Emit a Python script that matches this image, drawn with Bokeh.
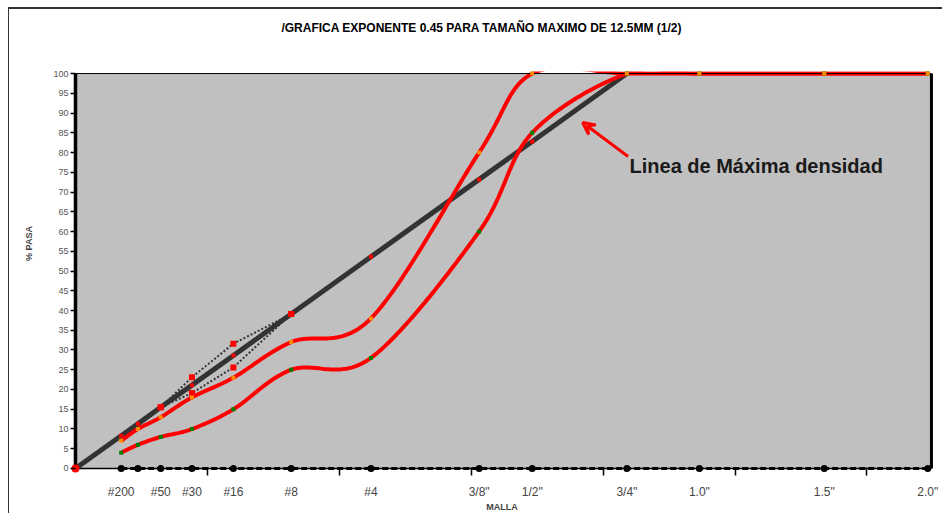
import numpy as np
from bokeh.plotting import figure
from bokeh.models import Range1d, FixedTicker, LinearAxis, Arrow, VeeHead, Label
from bokeh.embed import file_html
from bokeh.resources import INLINE

# --- data -------------------------------------------------------------------
EXPONENT = 0.45
sieve_labels = ["#200", "#100", "#50", "#30", "#16", "#8", "#4",
                '3/8"', '1/2"', '3/4"', '1.0"', '1.5"', '2.0"']
sieve_mm = [0.075, 0.15, 0.3, 0.6, 1.18, 2.36, 4.75, 9.5, 12.5, 19.0, 25.0, 37.5, 50.0]

# gradation band (% passing)
upper_limit = [7, 10, 13, 18, 23, 32, 38, 80, 100, 100, 100, 100, 100]
lower_limit = [4, 6, 8, 10, 15, 25, 28, 60, 85, 100, 100, 100, 100]

# maximum density line, 0.45 power
max_density_mm = [0.0, 0.075, 0.15, 0.3, 0.6, 1.18, 2.36, 4.75, 9.5, 12.5, 19.0]
max_density = [0.0, 8.3, 11.3, 15.5, 21.1, 28.6, 39.1, 53.6, 73.2, 82.8, 100.0]

# restricted zone
zone_mm = [0.3, 0.6, 1.18, 2.36]
zone_upper = [15.5, 23.1, 31.6, 39.1]
zone_lower = [15.5, 19.1, 25.6, 39.1]

TITLE = "/GRAFICA EXPONENTE 0.45 PARA TAMAÑO MAXIMO DE 12.5MM (1/2)"


def px(mm):
    return [m ** EXPONENT for m in mm]


def smooth(xs, ys, n=30):
    """Bezier smoothing through every point (tangent = neighbour chord / 6)."""
    xs = np.asarray(xs, float)
    ys = np.asarray(ys, float)
    ex = np.concatenate([[xs[0]], xs, [xs[-1]]])
    ey = np.concatenate([[ys[0]], ys, [ys[-1]]])
    out_x, out_y = [], []
    t = np.linspace(0, 1, n)
    for i in range(len(xs) - 1):
        x0, y0 = ex[i], ey[i]
        x1, y1 = ex[i + 1], ey[i + 1]
        x2, y2 = ex[i + 2], ey[i + 2]
        x3, y3 = ex[i + 3], ey[i + 3]
        c1x, c1y = x1 + (x2 - x0) / 6, y1 + (y2 - y0) / 6
        c2x, c2y = x2 - (x3 - x1) / 6, y2 - (y3 - y1) / 6
        a, b, c, d = (1 - t) ** 3, 3 * (1 - t) ** 2 * t, 3 * (1 - t) * t ** 2, t ** 3
        out_x.extend(a * x1 + b * c1x + c * c2x + d * x2)
        out_y.extend(a * y1 + b * c1y + c * c2y + d * y2)
    return out_x, out_y


sx = px(sieve_mm)
x_max = 5.84
# the frame reaches a little past the plotting area on the left, right and
# bottom (room for the base markers) and up to the title band at the top
x_lo, x_hi = -0.034, x_max + 0.014
y_lo, y_hi = -1.27, 115.2

FONT = "Liberation Sans"

p = figure(width=934, height=506, output_backend="svg", toolbar_location=None,
           x_range=Range1d(x_lo, x_hi), y_range=Range1d(y_lo, y_hi),
           min_border_left=61, min_border_right=10, min_border_top=4, min_border_bottom=42,
           x_axis_type=None, y_axis_type=None, title=None)
p.styles = {"margin-left": "8px", "margin-top": "7px",
            "border-left": "1px solid #333333", "border-top": "2px solid #333333"}
p.background_fill_color = "white"
p.border_fill_color = "white"
p.outline_line_color = None
p.grid.visible = False

# y axis
yax = LinearAxis(ticker=FixedTicker(ticks=list(range(0, 101, 5))))
yax.axis_line_color = None
yax.major_tick_out = 0
yax.major_tick_in = 5
yax.major_tick_line_width = 1.5
yax.major_tick_line_color = "black"
yax.minor_tick_out = 0
yax.minor_tick_in = 0
yax.major_label_text_font = FONT
yax.major_label_text_font_size = "9px"
yax.major_label_text_color = "#555555"
yax.major_label_standoff = 2
yax.axis_label = "% PASA"
yax.axis_label_text_font = FONT
yax.axis_label_text_font_size = "9px"
yax.axis_label_text_font_style = "bold"
yax.axis_label_standoff = 16
p.add_layout(yax, "left")

# x axis: sieve names at sieve positions, small ticks at regular steps
overrides = {x: (lab if lab != "#100" else "") for x, lab in zip(sx, sieve_labels)}
xax = LinearAxis(ticker=FixedTicker(ticks=sx, minor_ticks=[0.9 * k for k in range(1, 7)]))
xax.major_label_overrides = overrides
xax.axis_line_color = None
xax.major_tick_out = 0
xax.major_tick_in = 0
xax.minor_tick_out = 2
xax.minor_tick_in = 6
xax.minor_tick_line_width = 1.5
xax.minor_tick_line_color = "black"
xax.major_label_standoff = 9
xax.major_label_text_font = FONT
xax.major_label_text_font_size = "12px"
xax.axis_label = "MALLA"
xax.axis_label_text_font = FONT
xax.axis_label_text_font_size = "9px"
xax.axis_label_text_font_style = "bold"
xax.axis_label_standoff = 0
p.add_layout(xax, "below")

# plot area
p.quad(left=[0], right=[x_max], bottom=[0], top=[100], fill_color="#C0C0C0", line_color=None)
p.line([0, x_max], [0, 0], line_color="black", line_width=1.5)

# maximum density line
p.line(px(max_density_mm), max_density, line_color="#333333", line_width=5)
p.scatter(px(max_density_mm)[1:], max_density[1:], marker="square", size=4,
          fill_color="red", line_color=None)

# restricted zone
zx = px(zone_mm)
p.line(zx, zone_upper, line_color="#333333", line_width=2, line_dash="2 2")
p.line(zx, zone_lower, line_color="#333333", line_width=2, line_dash="2 2")
p.scatter(zx, zone_upper, marker="square", size=6, fill_color="red", line_color=None)
p.scatter(zx, zone_lower, marker="square", size=6, fill_color="red", line_color=None)

# gradation band
ux, uy = smooth(sx, upper_limit)
lx, ly = smooth(sx, lower_limit)
p.line(lx, ly, line_color="#FF0000", line_width=4)
p.line(ux, uy, line_color="#FF0000", line_width=4)

# the smoothed curves overshoot 100 %: hide everything above the plotting area
p.quad(left=[x_lo], right=[x_hi], bottom=[100.5], top=[y_hi], fill_color="white", line_color=None)
p.line([0, x_max], [100, 100], line_color="black", line_width=1)
p.scatter(sx, lower_limit, marker="square", size=4, fill_color="#008000", line_color=None)
p.scatter(sx, upper_limit, marker="square", size=4, fill_color="#FF8C00", line_color=None)

# left and right borders of the plotting area
p.line([0, 0], [0, 100], line_color="black", line_width=3.5)
p.line([x_max, x_max], [0, 100], line_color="black", line_width=3)

# sieve markers along the base
p.line(sx, [0] * len(sx), line_color="black", line_width=3, line_dash="6 3")
p.scatter(sx, [0] * len(sx), marker="circle", size=7, fill_color="black", line_color=None)
p.scatter([0], [0], marker="circle", size=8, fill_color="red", line_color=None)

# title
p.add_layout(Label(x=2.773, y=111.65, text=TITLE, text_font=FONT, text_font_size="12px",
                   text_font_style="bold", text_color="black",
                   text_align="center", text_baseline="middle"))

# annotation
p.add_layout(Arrow(end=VeeHead(size=12, line_color="red", line_width=3, fill_color=None),
                   x_start=3.77, y_start=79.0, x_end=3.46, y_end=87.6,
                   line_color="red", line_width=3))
p.add_layout(Label(x=3.78, y=76.6, text="Linea de Máxima densidad",
                   text_font=FONT, text_font_size="20px",
                   text_font_style="bold", text_color="#1a1a1a", text_baseline="middle"))

open("out.html", "w").write(file_html(p, INLINE))
